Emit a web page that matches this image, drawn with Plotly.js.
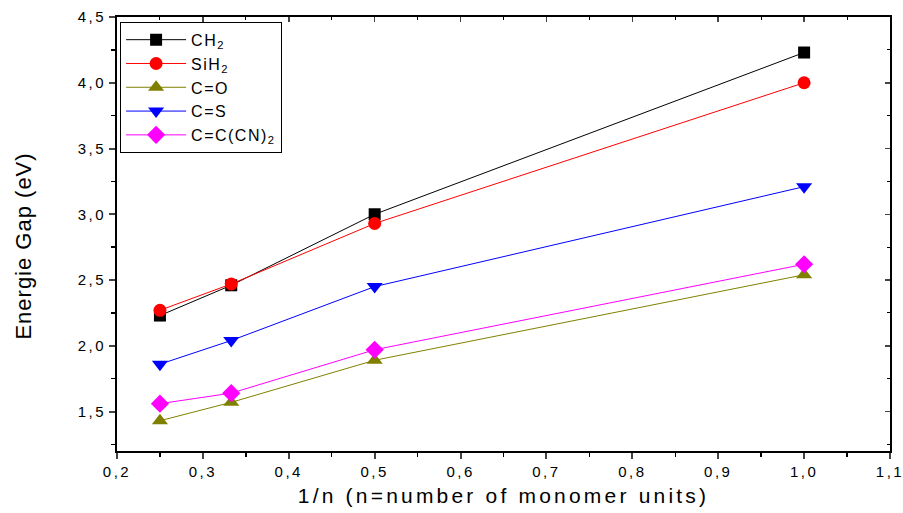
<!DOCTYPE html>
<html><head><meta charset="utf-8">
<script src="https://cdn.plot.ly/plotly-3.0.1.min.js"></script>
<style>
body{margin:0;background:#fff}#c{width:903px;height:513px}
#c .xtitle {letter-spacing: 3.2px;}
.annotation-text {letter-spacing: 1px;}
#c .xtick text, #c .ytick text {letter-spacing: 2.5px;}
.legendtext {letter-spacing: 1.5px;}
</style>
</head><body><div id="c"></div>
<script>
const xVals = [0.25, 0.333, 0.5, 1.0];
const ch2 = [2.23, 2.46, 3.00, 4.23];
const sih2 = [2.27, 2.47, 2.93, 4.00];
const co = [1.43, 1.57, 1.89, 2.54];
const cs = [1.86, 2.04, 2.45, 3.21];
const ccn = [1.56, 1.64, 1.97, 2.62];
const names = ['CH<sub>2</sub>', 'SiH<sub>2</sub>', 'C=O', 'C=S', 'C=C(CN)<sub>2</sub>'];
const xTitle = '1/n (n=number of monomer units)';
const yTitle = 'Energie Gap (eV)';

const series = [ch2, sih2, co, cs, ccn];
const colors = ['#000000', '#ff0000', '#808000', '#0000ff', '#ff00ff'];
const symbols = ['square', 'circle', 'triangle-up', 'triangle-down', 'diamond'];
const sizes = [12, 13, 14, 14, 14];

const traces = series.map((s, i) => ({
  x: xVals, y: s, name: names[i], type: 'scatter', mode: 'lines+markers',
  line: {color: colors[i], width: 1},
  marker: {color: colors[i], symbol: symbols[i], size: sizes[i]}
}));

const font = {family: 'Liberation Sans, Arial, sans-serif', color: '#000'};
const layout = {
  width: 903, height: 513,
  margin: {l: 117, r: 13, t: 17, b: 62},
  separators: ',.',
  paper_bgcolor: '#fff', plot_bgcolor: '#fff',
  font: Object.assign({size: 16}, font),
  showlegend: true,
  legend: {x: 0.004, y: 0.989, xanchor: 'left', yanchor: 'top', bordercolor: '#000', borderwidth: 1,
           bgcolor: '#fff', font: Object.assign({size: 16}, font), tracegroupgap: 0, itemwidth: 60},
  xaxis: {range: [0.2, 1.1], dtick: 0.1, tick0: 0.2, tickformat: '.1f', showgrid: false, zeroline: false,
          showline: true, linecolor: '#000', linewidth: 2, ticks: 'outside', ticklen: 6, tickwidth: 2,
          minor: {ticks: 'outside', dtick: 0.05, ticklen: 4, tickwidth: 1.5, tickcolor: '#000', showgrid: false},
          tickfont: Object.assign({size: 15}, font),
          title: {text: xTitle, font: Object.assign({size: 21}, font), standoff: 9}},
  yaxis: {range: [1.2, 4.5], dtick: 0.5, tick0: 1.5, tickformat: '.1f', showgrid: false, zeroline: false,
          showline: true, linecolor: '#000', linewidth: 2, ticks: 'outside', ticklen: 6, tickwidth: 2,
          minor: {ticks: 'outside', dtick: 0.25, ticklen: 4, tickwidth: 1.5, tickcolor: '#000', showgrid: false},
          tickfont: Object.assign({size: 15}, font)},
  xaxis2: {overlaying: 'x', side: 'top', range: [0.2, 1.1], dtick: 0.1, tick0: 0.2, showticklabels: false,
           showgrid: false, zeroline: false, showline: true, linecolor: '#000', linewidth: 2,
           ticks: 'inside', ticklen: 5, tickwidth: 1.5,
           minor: {ticks: 'inside', dtick: 0.05, ticklen: 3, tickwidth: 1, tickcolor: '#000', showgrid: false}},
  yaxis2: {overlaying: 'y', side: 'right', range: [1.2, 4.5], dtick: 0.5, tick0: 1.5, showticklabels: false,
           showgrid: false, zeroline: false, showline: true, linecolor: '#000', linewidth: 2,
           ticks: 'inside', ticklen: 5, tickwidth: 1.5,
           minor: {ticks: 'inside', dtick: 0.25, ticklen: 3, tickwidth: 1, tickcolor: '#000', showgrid: false}},
  annotations: [{text: yTitle, textangle: -90, xref: 'paper', yref: 'paper', x: 0, y: 0.471,
                 xanchor: 'center', yanchor: 'middle', xshift: -93, showarrow: false,
                 font: Object.assign({size: 22}, font)}]
};
traces.push({x: [0.2], y: [1.2], xaxis: 'x2', yaxis: 'y2', mode: 'markers', marker: {opacity: 0}, showlegend: false, hoverinfo: 'skip'});
Plotly.newPlot('c', traces, layout, {displayModeBar: false, staticPlot: true});
</script></body></html>
